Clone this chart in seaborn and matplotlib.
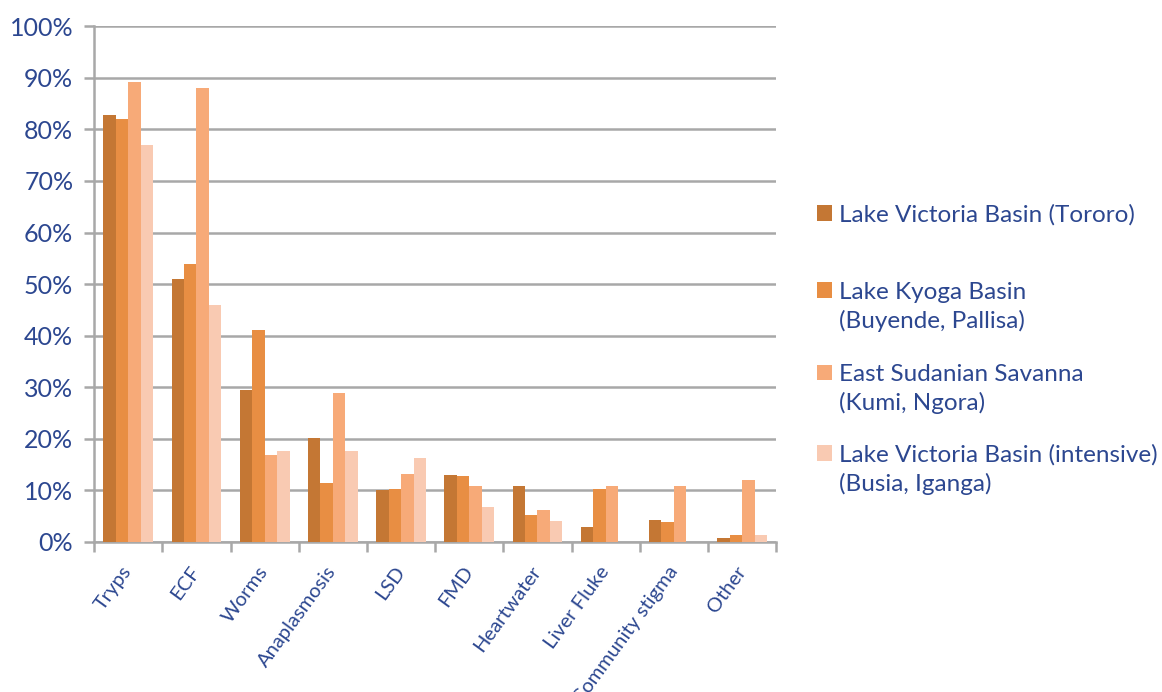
import numpy as np
import pandas as pd
import matplotlib
matplotlib.use("Agg")
import matplotlib.pyplot as plt
import seaborn as sns
from matplotlib.ticker import FixedLocator, PercentFormatter

diseases = ["Tryps", "ECF", "Worms", "Anaplasmosis", "LSD", "FMD",
            "Heartwater", "Liver Fluke", "Community stigma", "Other"]

regions = [
    "Lake Victoria Basin (Tororo)",
    "Lake Kyoga Basin\n(Buyende, Pallisa)",
    "East Sudanian Savanna\n(Kumi, Ngora)",
    "Lake Victoria Basin (intensive)\n(Busia, Iganga)",
]

tororo = [82.7, 51.0, 29.5, 20.2, 10.0, 13.0, 10.8, 2.9, 4.3, 0.7]
kyoga = [82.0, 53.9, 41.1, 11.4, 10.3, 12.8, 5.2, 10.3, 3.9, 1.3]
savanna = [89.2, 88.0, 16.9, 28.9, 13.2, 10.9, 6.1, 10.9, 10.9, 12.0]
intensive = [77.0, 45.9, 17.6, 17.6, 16.3, 6.8, 4.1, 0.0, 0.0, 1.4]

colors = ["#C47734", "#E88E43", "#F7AA78", "#F9CAB2"]
text_color = "#2C4790"
grid_color = "#A8A8A8"

df = pd.DataFrame({
    "disease": diseases * 4,
    "region": np.repeat(regions, len(diseases)),
    "value": tororo + kyoga + savanna + intensive,
})

sns.set_theme(style="white")
plt.rcParams["font.family"] = ["Lato", "DejaVu Sans"]

fig = plt.figure(figsize=(11.62, 6.92), dpi=100)
ax = fig.add_axes([0.081, 0.217, 0.587, 0.745])

sns.barplot(data=df, x="disease", y="value", hue="region", order=diseases,
            hue_order=regions, palette=colors, saturation=1, width=0.73,
            linewidth=0, ax=ax, zorder=3)

ax.set_xlim(-0.5, len(diseases) - 0.5)
ax.set_ylim(0, 100)
ax.set_yticks(np.arange(0, 101, 10))
ax.yaxis.set_major_formatter(PercentFormatter(decimals=0))
ax.yaxis.grid(True, color=grid_color, linewidth=1.8, zorder=0)
ax.set_axisbelow(True)
ax.set_xlabel("")
ax.set_ylabel("")

for side in ("top", "right"):
    ax.spines[side].set_visible(False)
for side in ("left", "bottom"):
    ax.spines[side].set_color(grid_color)
    ax.spines[side].set_linewidth(1.8)

# category boundaries carry the tick marks, labels sit at the centres
ax.xaxis.set_minor_locator(FixedLocator(np.arange(-0.5, len(diseases), 1.0)))
ax.tick_params(axis="x", which="minor", length=7, width=1.8, color=grid_color,
               direction="out", bottom=True)
ax.tick_params(axis="x", which="major", length=0, pad=19)
ax.tick_params(axis="y", which="major", length=7, width=1.8, color=grid_color,
               direction="out", left=True, pad=8)
ax.tick_params(axis="y", labelsize=18, labelcolor=text_color)
for lab in ax.get_xticklabels():
    lab.set_rotation(54)
    lab.set_rotation_mode("anchor")
    lab.set_ha("right")
    lab.set_va("center")
    lab.set_fontsize(14.5)
    lab.set_color(text_color)

handles, _ = ax.get_legend_handles_labels()
ax.get_legend().remove()

# one legend block per region so the swatch sits beside the first line
blank = matplotlib.patches.Patch(facecolor="none", edgecolor="none")
tops = [0.705, 0.593, 0.474, 0.358]
for h, lab, top in zip(handles, regions, tops):
    lines = lab.split("\n")
    hs = [h] + [blank] * (len(lines) - 1)
    fig.legend(hs, lines, loc="upper left", bbox_to_anchor=(0.703, top),
               frameon=False, fontsize=17.5, labelcolor=text_color,
               handlelength=0.62, handleheight=0.62, handletextpad=0.3,
               labelspacing=0.3, borderpad=0, borderaxespad=0)

fig.savefig("out.png", dpi=100)
